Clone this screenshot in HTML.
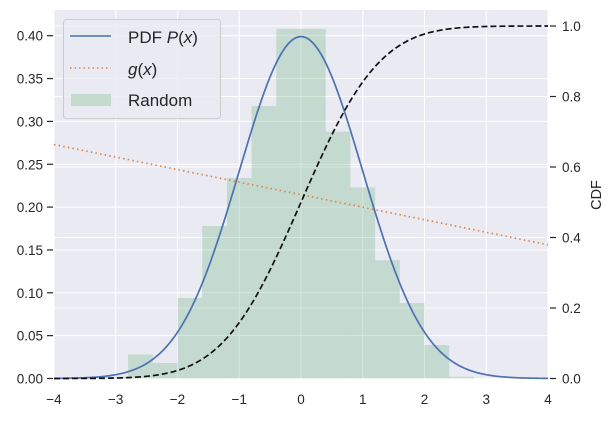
<!DOCTYPE html>
<html><head><meta charset="utf-8">
<style>
body{margin:0;background:#fff;font-family:"Liberation Sans","DejaVu Sans",sans-serif;}
svg text{font-family:"Liberation Sans","DejaVu Sans",sans-serif;fill:#262626;}
</style></head>
<body>
<svg id="chart" width="614" height="416" xmlns="http://www.w3.org/2000/svg">
<rect x="54" y="10" width="494" height="368.5" fill="#eaeaf2"/>
<g id="grid"></g>
<g id="bars"></g>
<g id="lines"></g>
<g id="axes"></g>
<g>
<rect x="63.5" y="19.5" width="157" height="99" rx="3" fill="#eaeaf2" fill-opacity="0.8" stroke="#cccccc"/>
<line x1="70" y1="36" x2="111" y2="36" stroke="#4c72b0" stroke-width="1.6"/>
<text x="128" y="43" font-size="17">PDF <tspan font-style="italic">P</tspan>(<tspan font-style="italic">x</tspan>)</text>
<line x1="70" y1="68" x2="111" y2="68" stroke="#dd8452" stroke-width="1.6" stroke-dasharray="1.5,3"/>
<text x="128" y="75" font-size="17"><tspan font-style="italic">g</tspan>(<tspan font-style="italic">x</tspan>)</text>
<rect x="71" y="94" width="40" height="12" fill="#c4dacc"/>
<text x="128" y="106" font-size="17">Random</text>
</g>
<text x="601" y="195" font-size="14.5" text-anchor="middle" transform="rotate(-90 601 195)">CDF</text>
</svg>
<script>
const binEdges=[-3.6,-3.2,-2.8,-2.4,-2.0,-1.6,-1.2,-0.8,-0.4,0,0.4,0.8,1.2,1.6,2.0,2.4,2.8];
const binHeights=[0.001,0.002,0.028,0.018,0.094,0.178,0.234,0.318,0.408,0.408,0.288,0.223,0.138,0.088,0.039,0.002];
const gX=[-4,4];
const gY=[0.273,0.156];
const xTicks=[-4,-3,-2,-1,0,1,2,3,4];
const yTicks=[0,0.05,0.10,0.15,0.20,0.25,0.30,0.35,0.40];
const y2Ticks=[0,0.2,0.4,0.6,0.8,1.0];
const NS="http://www.w3.org/2000/svg";
const X=v=>54+(v+4)*61.75;
const Y=v=>378.5-v*857;
const Y2=v=>378.5-v*352.5;
function mk(tag,attrs,parent){const e=document.createElementNS(NS,tag);for(const k in attrs)e.setAttribute(k,attrs[k]);document.getElementById(parent).appendChild(e);return e;}
xTicks.forEach(t=>{
 const l=mk('line',{x1:X(t),x2:X(t),y1:10,y2:378.5,stroke:'#fff','stroke-width':1},'grid');
 
 
 const tx=mk('text',{x:X(t),y:404,'font-size':13.5,'text-anchor':'middle'},'axes');
 tx.textContent=(t<0?'\u2212'+(-t):t);
 
 
});
yTicks.forEach(t=>{
 const l=mk('line',{x1:54,x2:548,y1:Y(t),y2:Y(t),stroke:'#fff','stroke-width':1},'grid');
 
 
 mk('line',{x1:47,x2:53,y1:Y(t),y2:Y(t),stroke:'#262626','stroke-width':1.2},'axes');
 const tx=mk('text',{x:43,y:Y(t)+5,'font-size':13.5,'text-anchor':'end'},'axes');
 tx.textContent=t.toFixed(2);
 
 
});
y2Ticks.forEach(t=>{
 const l=mk('line',{x1:54,x2:548,y1:Y2(t),y2:Y2(t),stroke:'#fff','stroke-width':1},'grid');
 
 
 mk('line',{x1:550,x2:556,y1:Y2(t),y2:Y2(t),stroke:'#262626','stroke-width':1.2},'axes');
 const tx=mk('text',{x:562,y:Y2(t)+5,'font-size':13.5},'axes');
 tx.textContent=t.toFixed(1);
 
 
});
binHeights.forEach((h,i)=>{
 const r=mk('rect',{x:X(binEdges[i]),y:Y(h),width:X(binEdges[i+1])-X(binEdges[i]),height:378.5-Y(h),fill:'#55a868','fill-opacity':0.25},'bars');
 
 
});
function erf(x){const s=Math.sign(x);x=Math.abs(x);const t=1/(1+0.3275911*x);const y=1-(((((1.061405429*t-1.453152027)*t)+1.421413741)*t-0.284496736)*t+0.254829592)*t*Math.exp(-x*x);return s*y;}
let pdf='',cdf='';
for(let i=0;i<=400;i++){const x=-4+8*i/400;const p=Math.exp(-x*x/2)/Math.sqrt(2*Math.PI);const c=0.5*(1+erf(x/Math.SQRT2));
 pdf+=(i?'L':'M')+X(x).toFixed(2)+','+Y(p).toFixed(2);cdf+=(i?'L':'M')+X(x).toFixed(2)+','+Y2(c).toFixed(2);}
const pl=mk('path',{d:pdf,fill:'none',stroke:'#4c72b0','stroke-width':1.7},'lines');


const gl=mk('path',{d:gX.map((x,i)=>(i?'L':'M')+X(x)+','+Y(gY[i])).join(''),fill:'none',stroke:'#dd8452','stroke-width':1.7,'stroke-dasharray':'1.5,3.2'},'lines');


const cl=mk('path',{d:cdf,fill:'none',stroke:'#111','stroke-width':1.7,'stroke-dasharray':'6,3'},'lines');


</script>
</body></html>
